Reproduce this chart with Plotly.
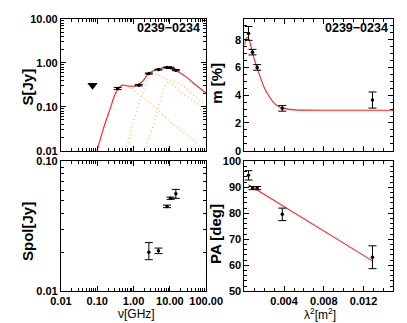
import plotly.graph_objects as go

source = "0239−0234"

# total flux density S(nu)
freq = [0.365, 1.4, 2.64, 4.85, 8.35, 10.45, 14.6]
flux = [0.26, 0.31, 0.57, 0.70, 0.78, 0.77, 0.68]
flux_err = [0.015, 0.012, 0.015, 0.015, 0.02, 0.02, 0.02]
lim_freq = [0.074]
lim_flux = [0.31]

# model spectrum (total) and its three components
fit_freq = [0.099, 0.143, 0.228, 0.30, 0.365, 0.43, 0.51, 0.65, 0.82, 1.05, 1.34, 1.79,
            2.55, 3.55, 4.76, 6.2, 7.73, 10.4, 15.3, 27.5, 49.3, 100]
fit_flux = [0.01, 0.029, 0.092, 0.18, 0.25, 0.29, 0.31, 0.30, 0.295, 0.295, 0.32, 0.38,
            0.57, 0.66, 0.72, 0.77, 0.79, 0.78, 0.66, 0.485, 0.32, 0.205]
c1_freq = [0.099, 0.143, 0.228, 0.30, 0.365, 0.43, 0.51, 0.65, 0.82, 1.2, 1.79, 4.76,
           12.6, 33.3, 72.9, 100]
c1_flux = [0.01, 0.029, 0.09, 0.175, 0.24, 0.28, 0.30, 0.29, 0.27, 0.21, 0.163, 0.083,
           0.039, 0.0216, 0.012, 0.0098]
c2_freq = [0.62, 0.91, 1.48, 1.79, 2.4, 3.2, 4.3, 6.4, 11.4, 25, 55, 100]
c2_flux = [0.01, 0.036, 0.138, 0.21, 0.40, 0.52, 0.54, 0.47, 0.33, 0.19, 0.12, 0.082]
c3_freq = [1.98, 3.56, 5.26, 7.73, 9.6, 11.4, 20.5, 36.8, 66, 100]
c3_flux = [0.01, 0.040, 0.129, 0.32, 0.40, 0.40, 0.32, 0.213, 0.14, 0.115]

# fractional polarisation vs lambda^2
lam2 = [0.00042, 0.00082, 0.00129, 0.00382, 0.0129]
mpol = [8.45, 7.1, 6.0, 3.05, 3.65]
mpol_err = [0.5, 0.2, 0.2, 0.2, 0.58]
mfit_lam2 = [0.00003, 0.00015, 0.0003, 0.00045, 0.0006, 0.00077, 0.001, 0.00123, 0.0016,
             0.002, 0.0025, 0.0029, 0.0034, 0.00385, 0.0045, 0.0051, 0.006, 0.008, 0.015]
mfit = [7.6, 8.05, 8.17, 8.05, 7.7, 7.2, 6.6, 6.1, 5.3, 4.55, 3.9, 3.5, 3.2, 3.07, 2.98,
        2.94, 2.92, 2.91, 2.91]

# polarised flux
pol_freq = [2.64, 4.85, 8.35, 10.45, 14.6]
spol = [0.020, 0.0205, 0.045, 0.052, 0.0564]
spol_up = [0.0037, 0.001, 0.001, 0.001, 0.0044]
spol_dn = [0.0025, 0.001, 0.001, 0.001, 0.0045]

# polarisation angle
pa = [94.6, 89.7, 89.7, 79.6, 63.1]
pa_err = [1.8, 0.6, 0.6, 2.4, 4.4]
pafit_lam2 = [0.00042, 0.0129]
pafit = [91.0, 61.7]

W, H = 407, 323
fig = go.Figure()

dot = dict(color="#FFB84D", width=1.3, dash="1px,3px")
for fx, fy in [(c1_freq, c1_flux), (c2_freq, c2_flux), (c3_freq, c3_flux)]:
    fig.add_trace(go.Scatter(x=fx, y=fy, mode="lines", line=dict(shape="spline", **dot),
                             xaxis="x", yaxis="y"))
fig.add_trace(go.Scatter(x=fit_freq, y=fit_flux, mode="lines",
                         line=dict(color="#FF2020", width=1.1, shape="spline"),
                         xaxis="x", yaxis="y"))
ebar = dict(color="black", thickness=1, width=4)
fig.add_trace(go.Scatter(x=freq, y=flux, mode="markers",
                         marker=dict(color="black", size=3.5),
                         error_y=dict(type="data", array=flux_err, **ebar),
                         xaxis="x", yaxis="y"))
fig.add_trace(go.Scatter(x=lim_freq, y=lim_flux, mode="markers",
                         marker=dict(color="black", size=9, symbol="triangle-down"),
                         xaxis="x", yaxis="y"))

fig.add_trace(go.Scatter(x=mfit_lam2, y=mfit, mode="lines",
                         line=dict(color="#FF2020", width=1.1, shape="spline"),
                         xaxis="x2", yaxis="y2"))
fig.add_trace(go.Scatter(x=lam2, y=mpol, mode="markers",
                         marker=dict(color="black", size=3.5),
                         error_y=dict(type="data", array=mpol_err, **ebar),
                         xaxis="x2", yaxis="y2"))

fig.add_trace(go.Scatter(x=pol_freq, y=spol, mode="markers",
                         marker=dict(color="black", size=3.5),
                         error_y=dict(type="data", array=spol_up, arrayminus=spol_dn, **ebar),
                         xaxis="x3", yaxis="y3"))

fig.add_trace(go.Scatter(x=pafit_lam2, y=pafit, mode="lines",
                         line=dict(color="#FF2020", width=1.1),
                         xaxis="x4", yaxis="y4"))
fig.add_trace(go.Scatter(x=lam2, y=pa, mode="markers",
                         marker=dict(color="black", size=3.5),
                         error_y=dict(type="data", array=pa_err, **ebar),
                         xaxis="x4", yaxis="y4"))

tickfont = dict(family="Liberation Sans, Arial, sans-serif", size=11, color="black",
                weight="bold")


def axis(**kw):
    base = dict(showline=True, linecolor="black", linewidth=1, mirror="allticks",
                ticks="inside", ticklen=5, tickcolor="black", showgrid=False,
                zeroline=False, tickfont=tickfont)
    base.update(kw)
    return base


logminor = lambda lo, hi: [k * 10.0 ** e for e in range(lo, hi) for k in range(2, 10)]

xl = [0.1106, 0.4939]
xr = [0.5946, 0.9877]
yt = [0.5604, 0.9845]
yb = [0.1084, 0.5263]

fig.update_layout(
    width=W, height=H, margin=dict(l=0, r=0, t=0, b=0),
    paper_bgcolor="white", plot_bgcolor="white", showlegend=False,
    xaxis=axis(type="log", domain=xl, range=[-2, 2], anchor="y",
               tickvals=[0.01, 0.1, 1, 10, 100], showticklabels=False,
               minor=dict(tickvals=logminor(-2, 2), ticks="inside", ticklen=3,
                          tickcolor="black")),
    yaxis=axis(type="log", domain=yt, range=[-2, 1], anchor="x",
               tickvals=[0.01, 0.1, 1, 10], ticktext=["0.01", "0.10", "1.00", "10.00"],
               minor=dict(tickvals=logminor(-2, 1), ticks="inside", ticklen=3,
                          tickcolor="black")),
    xaxis2=axis(domain=xr, range=[0, 0.015], anchor="y2", showticklabels=False,
                tickvals=[0.004, 0.008, 0.012],
                minor=dict(dtick=0.001, tick0=0, ticks="inside", ticklen=3,
                           tickcolor="black")),
    yaxis2=axis(domain=yt, range=[0, 9.5], anchor="x2", dtick=2, tick0=0,
                minor=dict(dtick=0.5, ticks="inside", ticklen=3, tickcolor="black")),
    xaxis3=axis(type="log", domain=xl, range=[-2, 2], anchor="y3",
                tickvals=[0.01, 0.1, 1, 10, 100],
                ticktext=["0.01", "0.10", "1.00", "10.00", "100.00"],
                minor=dict(tickvals=logminor(-2, 2), ticks="inside", ticklen=3,
                           tickcolor="black")),
    yaxis3=axis(type="log", domain=yb, range=[-2, -1], anchor="x3",
                tickvals=[0.01, 0.1], ticktext=["0.01", "0.10"],
                minor=dict(tickvals=logminor(-2, -1), ticks="inside", ticklen=3,
                           tickcolor="black")),
    xaxis4=axis(domain=xr, range=[0, 0.015], anchor="y4",
                tickvals=[0.004, 0.008, 0.012], ticktext=["0.004", "0.008", "0.012"],
                minor=dict(dtick=0.001, tick0=0, ticks="inside", ticklen=3,
                           tickcolor="black")),
    yaxis4=axis(domain=yb, range=[50, 100], anchor="x4", dtick=10, tick0=50,
                minor=dict(dtick=2, ticks="inside", ticklen=3, tickcolor="black")),
)

bold = dict(family="Liberation Sans, Arial, sans-serif", color="black", weight="bold")
plain = dict(family="Liberation Sans, Arial, sans-serif", color="black")


def note(text, px, py, size, font, angle=0, xanchor="center"):
    fig.add_annotation(text=text, x=px / W, y=1 - py / H, xref="paper", yref="paper",
                       showarrow=False, textangle=angle, xanchor=xanchor, yanchor="middle",
                       font=dict(size=size, **font))


note(source, 197, 15, 12.5, bold, xanchor="right")
note(source, 398, 15, 12.5, bold, xanchor="right")
note("S[Jy]", 9, 76, 15, bold, angle=-90)
note("m [%]", 212, 72, 15, bold, angle=-90)
note("Spol[Jy]", 9, 226, 15, bold, angle=-90)
note("PA [deg]", 211, 228, 15, bold, angle=-90)
note("ν[GHz]", 126, 312, 12, plain)
note("λ<sup>2</sup>[m<sup>2</sup>]", 323, 312, 12, plain)

fig.write_html("out.html")
